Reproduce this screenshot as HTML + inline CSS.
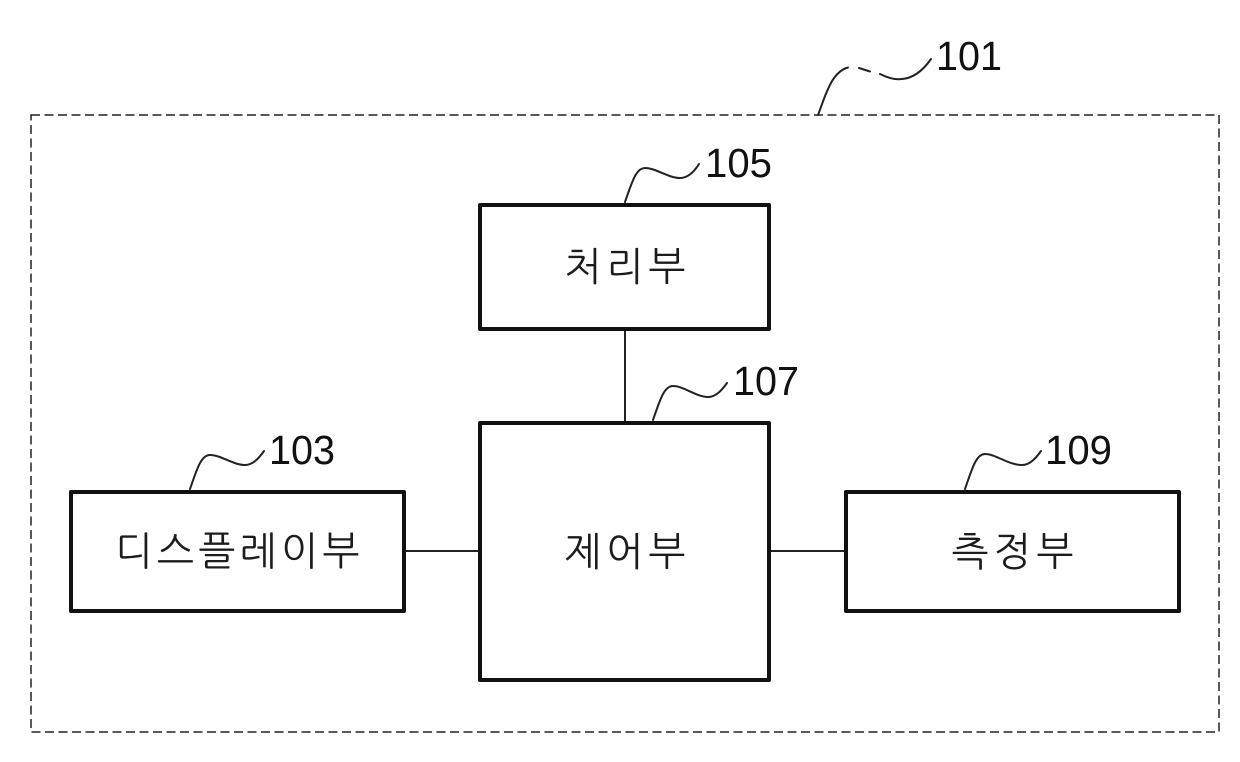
<!DOCTYPE html>
<html lang="ko">
<head>
<meta charset="utf-8">
<style>
html,body{margin:0;padding:0;background:#fff}
svg{display:block}
.n{font-family:"Liberation Sans",sans-serif;font-size:41px;fill:#111}
.k{font-family:"NanumGothic","Noto Sans CJK KR",sans-serif;font-size:39.500px;fill:#1c1c1c}
.b{fill:#fff;stroke:#111;stroke-width:4;stroke-linejoin:round}
.l{fill:none;stroke:#222;stroke-width:2;stroke-linecap:round}
</style>
</head>
<body>
<svg width="1240" height="762" viewBox="0 0 1240 762" xmlns="http://www.w3.org/2000/svg">
<rect x="31" y="115" width="1188" height="617" fill="none" stroke="#222" stroke-width="1.5" stroke-dasharray="9 4.500"/>
<path class="l" d="M818 115C825 97 831 72 848 67.500"/>
<path class="l" d="M859 68L870 71.500"/>
<path class="l" d="M880 74C888 78 895 80 902 79C915 78 924 69 931 59"/>
<path class="l" d="M625 329V422M404 551H480M769 551H846"/>
<path class="l" d="M625 202C632 182 636 168 645 168C656 168 668 178 680 178C688 178 694 172 699 164"/>
<path class="l" d="M653 420C660 400 664 386 673 386C684 386 696 397 708 397C716 397 722 390 727 383"/>
<path class="l" d="M190 489C197 469 201 455 210 455C221 455 233 465 245 465C253 465 259 458 264 451"/>
<path class="l" d="M965 489C972 469 976 454 985 454C996 454 1008 465 1022 465C1030 465 1036 458 1041 451"/>
<rect class="b" x="480" y="205" width="289" height="124"/>
<rect class="b" x="480" y="423" width="289" height="257"/>
<rect class="b" x="71" y="492" width="333" height="119"/>
<rect class="b" x="846" y="492" width="333" height="119"/>
<text class="k" x="564.500" y="280.500" textLength="121" lengthAdjust="spacing">처리부</text>
<text class="k" x="564.500" y="565.500" textLength="121" lengthAdjust="spacing">제어부</text>
<text class="k" x="115.500" y="565" textLength="244" lengthAdjust="spacing">디스플레이부</text>
<text class="k" x="951.500" y="565.500" textLength="122" lengthAdjust="spacing">측정부</text>
<text class="n" x="936" y="70" textLength="66" lengthAdjust="spacingAndGlyphs">101</text>
<text class="n" x="705" y="177" textLength="67" lengthAdjust="spacingAndGlyphs">105</text>
<text class="n" x="733" y="395" textLength="66" lengthAdjust="spacingAndGlyphs">107</text>
<text class="n" x="269" y="464" textLength="66" lengthAdjust="spacingAndGlyphs">103</text>
<text class="n" x="1045" y="464" textLength="67" lengthAdjust="spacingAndGlyphs">109</text>
</svg>
</body>
</html>
